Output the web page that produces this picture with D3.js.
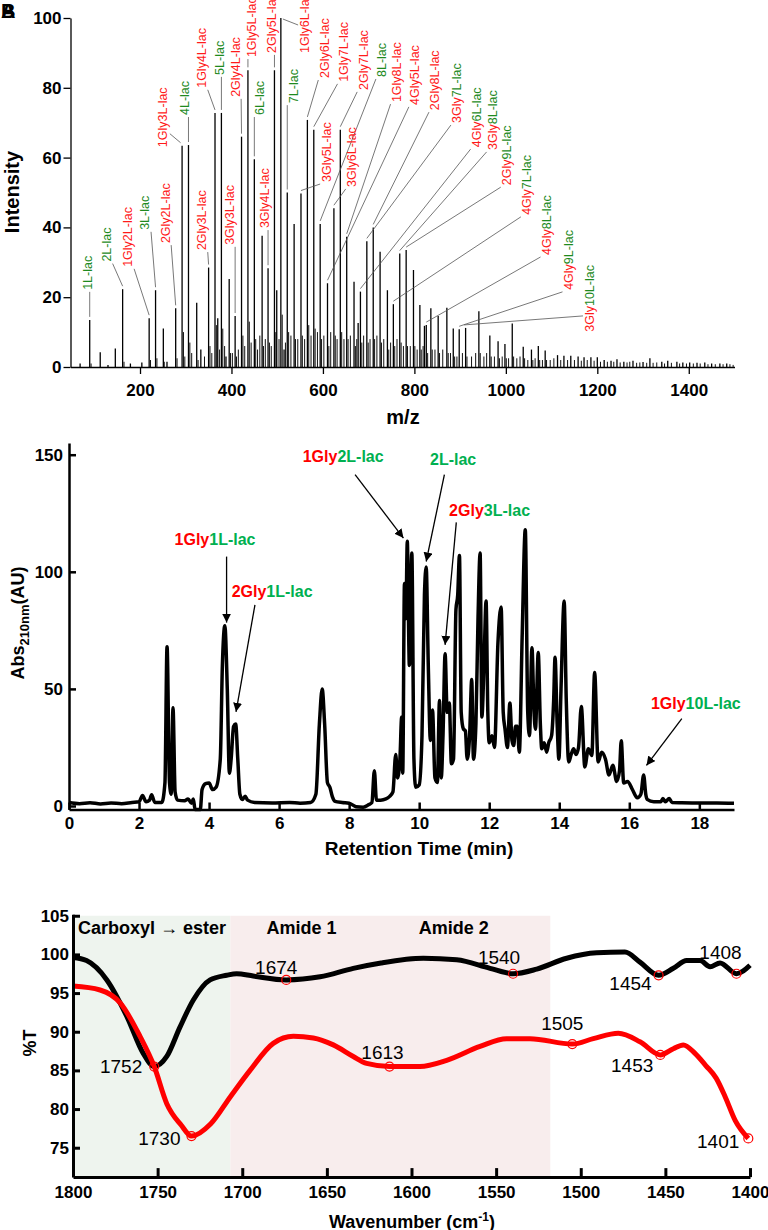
<!DOCTYPE html>
<html>
<head>
<meta charset="utf-8">
<script src="https://cdn.jsdelivr.net/npm/d3@7"></script>
<style>
  body { margin: 0; background: #fff; }
  svg { display: block; }
  text { font-family: "Liberation Sans", Arial, sans-serif; }
</style>
</head>
<body>
<svg id="fig" width="768" height="1230"></svg>
<script>
// ---------- panel A : mass spectrum ----------
const mzTicks = [200, 400, 600, 800, 1000, 1200, 1400];
const intTicks = [0, 20, 40, 60, 80, 100];

// [m/z, relative intensity]
const msPeaks = [
  [69,1],[90,13.5],[113,4.2],[130,0.6],[146,5.3],[162,22.3],[179,1],[204,1.3],[220,14],[234,22],
  [251,11],[259,1.5],[278,16.8],[292,63.4],[306,63.6],[324,18.4],[333,5],[350,28.5],[364,72.8],[370,14],
  [378,72.8],[388,3],[395,25.2],[408,14.6],[422,66],[436,85],[450,59.5],[467,37.6],[480,28.3],[494,85],
  [499,22],[508,100],[515,5],[522,50],[537,41],[552,49.7],[566,70.8],[580,68],[594,41],[610,24],
  [624,45.5],[638,68],[652,37.3],[668,24.4],[677,12.6],[682,21.6],[696,36],[710,40],[725,33],[741,22],
  [754,18],[768,32.5],[782,33.5],[798,27.8],[812,17.8],[822,11.8],[826,12],[836,16.8],[852,14.6],[871,17],
  [885,11],[898,10.8],[912,11.2],[941,16],[965,9],[983,7.4],[998,6.6],[1014,12.5],[1038,5.8],[1056,5],
  [1071,6],[1086,4.7],[1113,3.4],[1127,3.2],[1142,3.2],[1158,3],[1171,2.8],[1186,2.8],[1200,2.8],[1215,2],
  [1230,1.8],[1243,2.2],[1258,1.5],[1278,1.8],[1300,1.4],[1315,2.5],[1341,1.5],[1354,1.8],[1374,1.5],[1387,1.3],
  [1402,1.3],[1418,1.2],[1435,1.3],[1450,1],[1468,1],[1483,1]
];
// small side peaks / isotopes
const msMinor = [
  [93,1],[165,1.5],[223,2],[237,2.5],[253,1.5],[281,2.5],[295,10],[298,3],[309,7],[313,4],
  [327,2],[341,3],[353,6],[357,4],[367,12],[374,5],[381,11],[385,6],[398,4],[402,4],
  [411,3],[415,5],[425,9],[429,6],[439,13],[443,7],[453,8],[457,5],[462,9],[470,6],
  [474,8],[483,7],[487,6],[497,10],[504,8],[511,15],[518,7],[525,10],[530,9],[540,8],
  [545,8],[555,9],[560,8],[569,12],[574,9],[583,11],[588,10],[597,8],[602,9],[613,6],
  [617,10],[627,9],[631,8],[641,10],[646,8],[655,8],[660,9],[671,6],[674,8],[685,7],
  [689,9],[699,7],[703,8],[713,8],[718,9],[728,7],[733,8],[744,5],[748,7],[757,6],
  [762,8],[771,7],[776,6],[785,6],[791,6],[801,6],[806,5],[815,5],[819,6],[829,4],
  [839,5],[845,5],[855,4],[862,5],[874,4],[879,4],[888,3],[893,3],[905,4],[915,3],
  [925,3],[934,4],[944,4],[952,3],[958,4],[968,3],[975,3],[986,2.5],[992,3],[1001,2.5],
  [1006,2.5],[1017,3],[1024,2.5],[1031,3],[1041,2.5],[1048,2],[1059,2],[1064,2.5],[1074,2],[1080,2],
  [1089,2],[1097,2],[1105,2.5],[1120,2],[1135,2],[1150,2],[1165,1.8],[1178,2],[1193,1.8],[1207,1.5],
  [1222,1.5],[1236,1.5],[1250,1.3],[1265,1.3],[1271,1.5],[1286,1.2],[1293,1.3],[1308,1.2],[1322,1.2],[1330,1.3],
  [1347,1],[1362,1.2],[1380,1],[1395,1],[1410,1],[1425,1],[1442,0.8],[1458,0.8],[1475,0.8],[1490,0.8],[1497,0.6]
];
// label, peak m/z, label anchor [m/z, intensity], colouring
const msLabels = [
  ["1L-lac",90,[85,22.1],"g"],["2L-lac",162,[127,30.2],"g"],["1Gly2L-lac",220,[174,28.7],"r"],
  ["3L-lac",234,[211,39.3],"g"],["2Gly2L-lac",278,[255,35.5],"r"],["1Gly3L-lac",292,[250,63],"r"],
  ["4L-lac",306,[298,72.2],"g"],["2Gly3L-lac",350,[335,33.5],"r"],["1Gly4L-lac",364,[335,80],"r"],
  ["5L-lac",378,[375,83.7],"g"],["3Gly3L-lac",408,[397,35],"r"],["2Gly4L-lac",422,[408,77.4],"r"],
  ["1Gly5L-lac",436,[444,88.8],"r"],["6L-lac",450,[461,72.2],"g"],["3Gly4L-lac",480,[473,39.8],"r"],
  ["2Gly5L-lac",494,[488,90],"r"],["1Gly6L-lac",508,[561,90],"r"],["7L-lac",522,[535,75.6],"g"],
  ["2Gly6L-lac",566,[603,82.8],"r"],["3Gly5L-lac",552,[607,53],"r"],["1Gly7L-lac",580,[645,81.7],"r"],
  ["3Gly6L-lac",624,[663,51.6],"r"],["2Gly7L-lac",638,[688,79.4],"r"],["8L-lac",594,[729,83.1],"g"],
  ["1Gly8L-lac",652,[761,75.9],"r"],["4Gly5L-lac",610,[801,75.1],"r"],["2Gly8L-lac",710,[845,73.6],"r"],
  ["3Gly7L-lac",696,[893,69.9],"rg"],["4Gly6L-lac",682,[936,63],"rg"],["3Gly8L-lac",768,[971,62.2],"rg"],
  ["2Gly9L-lac",782,[1002,52.1],"rg"],["4Gly7L-lac",754,[1046,43.6],"rg"],["4Gly8L-lac",826,[1089,32.1],"rg"],
  ["4Gly9L-lac",898,[1137,22.1],"rg"],["3Gly10L-lac",912,[1184,10.1],"rg"]
];

// ---------- panel B : chromatogram ----------
const rtTicks = [0, 2, 4, 6, 8, 10, 12, 14, 16, 18];
const absTicks = [0, 50, 100, 150];
// [retention time (min), absorbance]
const chrom = [
  [0,1.5],[0.3,1.0],[0.6,1.4],[0.9,0.9],[1.2,1.3],[1.5,1.0],[1.8,1.5],[2.0,1.8],[2.1,4.5],[2.2,1.8],
  [2.3,2.5],[2.36,4.8],[2.45,1.5],[2.65,1.5],[2.74,10],[2.8,68],[2.87,10],[2.92,5],[2.97,42],[3.03,6],
  [3.1,2.5],[3.3,2.2],[3.4,3],[3.5,1.2],[3.55,3],[3.6,-1.5],[3.75,-1.5],[3.8,7],[3.9,9.5],[4.0,9.8],
  [4.1,7],[4.2,8],[4.32,20],[4.38,60],[4.45,77],[4.52,50],[4.58,14],[4.63,20],[4.7,34],[4.76,35],
  [4.82,20],[4.88,5],[4.95,2.8],[5.03,4.2],[5.1,2.5],[5.3,1.5],[5.8,1.3],[6.3,1.5],[6.6,1.2],[6.9,1.5],
  [7.05,5],[7.15,35],[7.23,50],[7.3,35],[7.38,10],[7.45,8],[7.52,4],[7.6,2],[7.8,1.5],[8.0,1.2],
  [8.2,-0.3],[8.4,-0.5],[8.55,0.5],[8.65,1.5],[8.72,15],[8.78,2.5],[8.9,2.5],[9.05,3],[9.15,4],[9.25,6],
  [9.33,22],[9.38,12],[9.45,20],[9.5,38],[9.53,14],[9.58,95],[9.62,80],[9.66,113],[9.72,60],[9.79,108],
  [9.85,20],[9.9,8],[10.0,9],[10.08,30],[10.15,90],[10.2,102],[10.26,60],[10.32,28],[10.38,41],[10.45,12],
  [10.52,10],[10.58,45],[10.63,12],[10.68,30],[10.74,65],[10.8,40],[10.86,44],[10.92,18],[10.98,20],[11.05,84],
  [11.1,90],[11.15,107],[11.2,40],[11.26,33],[11.32,32],[11.37,20],[11.44,30],[11.5,54],[11.55,20],[11.62,35],
  [11.68,80],[11.74,108],[11.79,38],[11.85,60],[11.91,87.5],[11.96,40],[12.0,27],[12.08,30],[12.15,25],[12.25,70],
  [12.34,85],[12.4,40],[12.45,33],[12.52,25],[12.59,44],[12.65,28],[12.7,25.8],[12.75,34],[12.8,34],[12.86,23],
  [12.94,72],[13.03,118],[13.1,40],[13.15,30],[13.22,67.6],[13.28,40],[13.32,32.8],[13.4,65.5],[13.46,35],[13.5,24.4],
  [13.57,27],[13.64,23],[13.7,27],[13.78,30],[13.84,45],[13.88,63.5],[13.94,35],[13.99,20],[14.05,50],[14.14,87.5],
  [14.2,45.3],[14.27,18.8],[14.34,22],[14.41,24.4],[14.48,22],[14.55,25],[14.63,42.5],[14.73,16.7],[14.83,24.4],[14.93,21.6],
  [15.01,57],[15.11,18.8],[15.21,23],[15.32,20],[15.42,13.2],[15.53,17.4],[15.64,10.5],[15.72,15],[15.77,27.9],[15.84,9.8],
  [15.95,10.5],[16.09,7],[16.23,3.5],[16.33,5],[16.41,13.2],[16.47,5],[16.51,2.8],[16.7,1.8],[16.9,1.8],[16.96,3.2],
  [17.03,1.8],[17.14,3.2],[17.22,1.5],[17.5,1.4],[18,1.3],[18.5,1.3],[18.99,1.2]
];
// parts [text, colour], label centre, arrow start, arrow end  (all in data units)
const rtLabels = [
  [[["1Gly","r"],["1L-lac","g"]], [4.17,113.7], [4.5,106.5], [4.5,78.3]],
  [[["2Gly","r"],["1L-lac","g"]], [5.8,91.6], [5.31,85.9], [4.77,40.2]],
  [[["1Gly","r"],["2L-lac","g"]], [7.83,149.3], [8.17,141.5], [9.55,114.4]],
  [[["2L-lac","g"]], [10.97,148.2], [10.72,141.5], [10.2,104.4]],
  [[["2Gly","r"],["3L-lac","g"]], [12.01,126.1], [11.06,121.1], [10.74,68.8]],
  [[["1Gly","r"],["10L-lac","g"]], [17.9,43.8], [17.5,37.3], [16.49,17.3]]
];

// ---------- panel C : FTIR ----------
const wnTicks = [1800, 1750, 1700, 1650, 1600, 1550, 1500, 1450, 1400];
const tTicks = [75, 80, 85, 90, 95, 100, 105];
// [wavenumber, %T]
const irBlack = [
  [1800,99.6],[1792,99.2],[1780,96.7],[1768,91.9],[1758.5,87.2],[1752,85.5],[1744.6,86.8],[1736.8,90.6],
  [1728.9,94.1],[1719,96.7],[1709.2,97.3],[1703.3,97.5],[1693.5,97.2],[1674,96.7],[1654,97.1],[1634.4,98.2],
  [1618,98.9],[1593,99.5],[1573.3,99.3],[1553.6,98.2],[1540,97.5],[1526,98.1],[1508.3,99.5],[1490.6,100.2],
  [1473.9,100.3],[1465,99],[1454,97.3],[1445.3,98.2],[1437.4,99.2],[1429.5,99.2],[1423.6,98.4],[1417.7,98.9],
  [1408,97.5],[1400,98.6]
];
const irRed = [
  [1800,95.9],[1784,95.4],[1772,93.7],[1760.4,89.4],[1752,85.5],[1744.6,80.7],[1736,77.9],[1730,76.5],
  [1718.6,78.1],[1707,81.6],[1695.4,85],[1681.7,88.5],[1669.8,89.4],[1658,89.2],[1646.2,88.3],[1634.4,86.8],
  [1626.5,85.9],[1613,85.5],[1595,85.5],[1579.2,86.3],[1559.5,88.1],[1543.8,89.1],[1530,89.1],[1505,88.4],
  [1492.6,89.1],[1477.8,89.8],[1465,88.7],[1453,87],[1445.3,87.8],[1439.4,88.3],[1432.5,87.2],[1426,85.6],
  [1420,84],[1414.5,81.5],[1408.7,78.5],[1401,76.2]
];
const irBlackPeaks = [[1752,85.5],[1674,96.7],[1540,97.5],[1454,97.3],[1408,97.5]];
const irRedPeaks = [[1730,76.5],[1613,85.5],[1505,88.4],[1453,87],[1401,76.2]];
const irRegions = [[1800,1707,"#eef4ee"],[1707,1518,"#f8eded"]];
// title, anchor wavenumber, text-anchor
const irRegionTitles = [["Carboxyl \u2192 ester",1797,"start"],["Amide 1",1665,"middle"],["Amide 2",1575,"middle"]];

const RED = "#ff1a1a", GREEN_A = "#1e8a1e", GREEN_B = "#00b050";
const svg = d3.select("#fig");

function styleAxis(g, size, w) {
  g.select(".domain").attr("stroke", "#000").attr("stroke-width", w);
  g.selectAll(".tick line").attr("stroke", "#000").attr("stroke-width", w);
  g.selectAll(".tick text").attr("fill", "#000").attr("font-size", size)
    .attr("font-weight", "bold").attr("font-family", '"Liberation Sans", Arial, sans-serif');
}
const plain = d3.format("d");

// ================= A =================
const xA = d3.scaleLinear().domain([48, 1500]).range([70.5, 734.5]);
const yA = d3.scaleLinear().domain([0, 100]).range([367, 18]);
const gA = svg.append("g");

gA.append("g").selectAll("line").data(msMinor).join("line")
  .attr("x1", d => xA(d[0])).attr("x2", d => xA(d[0]))
  .attr("y1", yA(0)).attr("y2", d => yA(d[1]))
  .attr("stroke", "#111").attr("stroke-width", 1);
gA.append("g").selectAll("line").data(msPeaks).join("line")
  .attr("x1", d => xA(d[0])).attr("x2", d => xA(d[0]))
  .attr("y1", yA(0)).attr("y2", d => yA(d[1]))
  .attr("stroke", "#000").attr("stroke-width", 1.3);

gA.append("g").attr("transform", "translate(0,367)")
  .call(d3.axisBottom(xA).tickValues(mzTicks).tickFormat(plain).tickSize(7).tickSizeOuter(0).tickPadding(10))
  .call(g => styleAxis(g, 17, 1.3));
gA.append("g").attr("transform", "translate(70.5,0)")
  .call(d3.axisLeft(yA).tickValues(intTicks).tickFormat(plain).tickSize(7).tickSizeOuter(0).tickPadding(2))
  .call(g => styleAxis(g, 17, 1.3));

gA.append("text").attr("x", 403).attr("y", 424).attr("text-anchor", "middle")
  .attr("font-size", 20).attr("font-weight", "bold").text("m/z");
gA.append("text").attr("transform", "translate(19,192) rotate(-90)").attr("text-anchor", "middle")
  .attr("font-size", 20).attr("font-weight", "bold").text("Intensity");
svg.append("text").attr("x", 1).attr("y", 18).attr("font-size", 20).attr("font-weight", "bold").text("A");
svg.append("text").attr("x", 1).attr("y", 18).attr("font-size", 20).attr("font-weight", "bold").text("B");

// labels + leaders
const leaders = gA.append("g");
msLabels.forEach(([name, mz, at, col]) => {
  const peak = msPeaks.find(p => p[0] === mz);
  const px = xA(mz), py = yA(peak[1]);
  const lx = xA(at[0]), ly = yA(at[1]);
  let sx, sy, ex = px, ey = py - 3;
  if (py < ly - 10) {            // peak top above the label foot
    sx = lx + (px < lx ? -7 : 7); sy = py + 7; ex = px + 2; ey = py + 1;
  } else if (py < ly + 10) {     // peak top level with the label foot
    sx = lx + (px < lx ? -7 : 7); sy = py - 12; ex = px - 1.5;
  } else {
    sx = lx + Math.max(-6, Math.min(6, px - lx)); sy = ly + 2;
  }
  leaders.append("line").attr("x1", sx).attr("y1", sy).attr("x2", ex).attr("y2", ey)
    .attr("stroke", "#555").attr("stroke-width", 0.8);
  const t = gA.append("text").attr("transform", `translate(${lx},${ly}) rotate(-90)`)
    .attr("dy", "0.35em").attr("font-size", 12.5);
  const m = name.match(/^(\d+Gly)(.*)$/);
  if (col === "g") t.append("tspan").attr("fill", GREEN_A).text(name);
  else if (col === "r") t.append("tspan").attr("fill", RED).text(name);
  else {
    t.append("tspan").attr("fill", RED).text(m[1]);
    t.append("tspan").attr("fill", GREEN_A).text(m[2]);
  }
});

// ================= B =================
const xB = d3.scaleLinear().domain([0, 18.99]).range([69, 734]);
const yB = d3.scaleLinear().domain([-1.5, 155]).range([809.5, 443]);
const gB = svg.append("g");

gB.append("path").datum(chrom)
  .attr("d", d3.line().x(d => xB(d[0])).y(d => yB(d[1])).curve(d3.curveMonotoneX))
  .attr("fill", "none").attr("stroke", "#000").attr("stroke-width", 3.5)
  .attr("stroke-linejoin", "round");

gB.append("g").attr("transform", `translate(0,${yB(-1.5)})`)
  .call(d3.axisBottom(xB).tickValues(rtTicks).tickFormat(plain).tickSize(-7).tickSizeOuter(0).tickPadding(7))
  .call(g => styleAxis(g, 17, 2.5));
gB.append("g").attr("transform", "translate(69,0)")
  .call(d3.axisLeft(yB).tickValues(absTicks).tickFormat(plain).tickSize(-7).tickSizeOuter(0).tickPadding(6))
  .call(g => styleAxis(g, 17, 2.5));

gB.append("text").attr("x", 419).attr("y", 855).attr("text-anchor", "middle")
  .attr("font-size", 19).attr("font-weight", "bold").text("Retention Time (min)");
const yl = gB.append("text").attr("transform", "translate(24,623) rotate(-90)")
  .attr("text-anchor", "middle").attr("font-size", 18).attr("font-weight", "bold");
yl.append("tspan").text("Abs");
yl.append("tspan").attr("font-size", 13).attr("dy", 5).text("210nm");
yl.append("tspan").attr("dy", -5).text("(AU)");

svg.append("defs").append("marker").attr("id", "arrow")
  .attr("viewBox", "0 0 10 10").attr("refX", 10).attr("refY", 5)
  .attr("markerWidth", 9).attr("markerHeight", 9).attr("markerUnits", "userSpaceOnUse")
  .attr("orient", "auto")
  .append("path").attr("d", "M0,0L10,5L0,10z").attr("fill", "#000");

rtLabels.forEach(([parts, at, from, to]) => {
  const t = gB.append("text").attr("x", xB(at[0])).attr("y", yB(at[1])).attr("dy", "0.35em")
    .attr("text-anchor", "middle").attr("font-size", 16).attr("font-weight", "bold");
  parts.forEach(([s, c]) => t.append("tspan").attr("fill", c === "r" ? "#ff0000" : GREEN_B).text(s));
  gB.append("line").attr("x1", xB(from[0])).attr("y1", yB(from[1]))
    .attr("x2", xB(to[0])).attr("y2", yB(to[1]))
    .attr("stroke", "#000").attr("stroke-width", 1.3).attr("marker-end", "url(#arrow)");
});

// ================= C =================
const xC = d3.scaleLinear().domain([1800, 1400]).range([73, 750]);
const yC = d3.scaleLinear().domain([71.2, 105.2]).range([1177.1, 914.2]);
const gC = svg.append("g");

irRegions.forEach(([a, b, c]) => {
  gC.append("rect").attr("x", xC(a)).attr("width", xC(b) - xC(a))
    .attr("y", yC(105)).attr("height", yC(71.2) - yC(105)).attr("fill", c);
});
irRegionTitles.forEach(([s, wn, anchor]) => {
  gC.append("text").attr("x", xC(wn)).attr("y", 934).attr("text-anchor", anchor)
    .attr("font-size", 18).attr("font-weight", "bold").text(s);
});

const irLine = d3.line().x(d => xC(d[0])).y(d => yC(d[1])).curve(d3.curveMonotoneX);
gC.append("path").datum(irBlack).attr("d", irLine).attr("fill", "none")
  .attr("stroke", "#000").attr("stroke-width", 5).attr("stroke-linejoin", "round");
gC.append("path").datum(irRed).attr("d", irLine).attr("fill", "none")
  .attr("stroke", "#ff0000").attr("stroke-width", 5).attr("stroke-linejoin", "round");

const peakLabelPos = {   // offsets of the number from its marker
  1752: [-12, 6, "end"], 1674: [-10, -6, "middle"], 1540: [-14, -10, "middle"],
  1454: [-7, 15, "end"], 1408: [-16, -15, "middle"], 1730: [-11, 9, "end"],
  1613: [-7, -8, "middle"], 1505: [-10, -14, "middle"], 1453: [-7, 17, "end"], 1401: [-9, 10, "end"]
};
irBlackPeaks.concat(irRedPeaks).forEach(([wn, v]) => {
  const cx = xC(wn), cy = yC(v);
  gC.append("circle").attr("cx", cx).attr("cy", cy).attr("r", 4.5)
    .attr("fill", "none").attr("stroke", "#ff0000").attr("stroke-width", 1.2);
  const o = peakLabelPos[wn];
  gC.append("text").attr("x", cx + o[0]).attr("y", cy + o[1]).attr("text-anchor", o[2])
    .attr("font-size", 19).text(wn);
});

gC.append("g").attr("transform", `translate(0,${yC(71.2)})`)
  .call(d3.axisBottom(xC).tickValues(wnTicks).tickFormat(plain).tickSize(-9).tickSizeOuter(0).tickPadding(9))
  .call(g => styleAxis(g, 17, 3));
gC.append("g").attr("transform", "translate(73,0)")
  .call(d3.axisLeft(yC).tickValues(tTicks).tickFormat(plain).tickSize(-7).tickSizeOuter(0).tickPadding(4))
  .call(g => styleAxis(g, 17, 3));

gC.append("text").attr("transform", "translate(36,1043) rotate(-90)").attr("text-anchor", "middle")
  .attr("font-size", 18).attr("font-weight", "bold").text("%T");
const xl = gC.append("text").attr("x", 412).attr("y", 1228).attr("text-anchor", "middle")
  .attr("font-size", 18).attr("font-weight", "bold");
xl.append("tspan").text("Wavenumber (cm");
xl.append("tspan").attr("font-size", 12).attr("dy", -7).text("-1");
xl.append("tspan").attr("dy", 7).text(")");
</script>
</body>
</html>
